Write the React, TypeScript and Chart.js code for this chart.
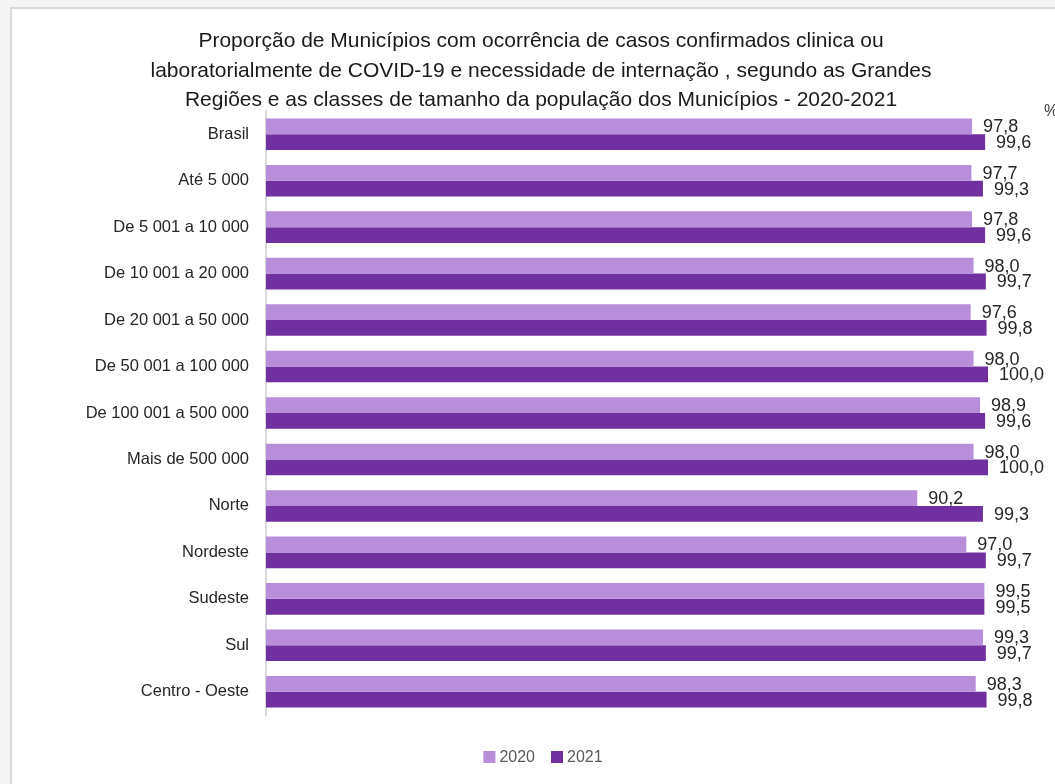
import React, { useEffect, useRef } from "react";
import { Chart, registerables } from "chart.js";

Chart.register(...registerables);

const titleLines = [
  "Proporção de Municípios com ocorrência de casos confirmados clinica ou",
  "laboratorialmente de COVID-19 e necessidade de internação , segundo as Grandes",
  "Regiões e as classes de tamanho da população dos Municípios - 2020-2021",
];

const categories = [
  "Brasil",
  "Até 5 000",
  "De 5 001 a 10 000",
  "De 10 001 a 20 000",
  "De 20 001 a 50 000",
  "De 50 001 a 100 000",
  "De 100 001 a 500 000",
  "Mais de 500 000",
  "Norte",
  "Nordeste",
  "Sudeste",
  "Sul",
  "Centro - Oeste",
];

const values2020 = [97.8, 97.7, 97.8, 98.0, 97.6, 98.0, 98.9, 98.0, 90.2, 97.0, 99.5, 99.3, 98.3];
const values2021 = [99.6, 99.3, 99.6, 99.7, 99.8, 100.0, 99.6, 100.0, 99.3, 99.7, 99.5, 99.7, 99.8];

const seriesLabels = ["2020", "2021"];
const seriesColors = ["#b88dda", "#7030a0"];
const unitLabel = "%";

const FONT = "'Liberation Sans', Arial, sans-serif";

const framePlugin = {
  id: "frame",
  beforeDraw(chart: any) {
    const ctx = chart.ctx;
    ctx.save();
    ctx.fillStyle = "#f4f4f4";
    ctx.fillRect(0, 0, chart.width, chart.height);
    ctx.fillStyle = "#d9d9d9";
    ctx.fillRect(10, 7, chart.width - 10, chart.height - 7);
    ctx.fillStyle = "#ffffff";
    ctx.fillRect(12, 9, chart.width - 12, chart.height - 9);
    ctx.restore();
  },
};

const textPlugin = {
  id: "texts",
  afterDatasetsDraw(chart: any) {
    const ctx = chart.ctx;
    ctx.save();
    // title
    ctx.fillStyle = "#1a1a1a";
    ctx.font = `21px ${FONT}`;
    ctx.textAlign = "center";
    ctx.textBaseline = "alphabetic";
    const baselines = [47, 77, 106];
    titleLines.forEach((t, i) => ctx.fillText(t, 541, baselines[i]));

    // unit
    ctx.font = `16px ${FONT}`;
    ctx.textAlign = "left";
    ctx.textBaseline = "middle";
    ctx.fillStyle = "#404040";
    ctx.fillText(unitLabel, 1044, 112);

    // value labels
    ctx.font = `18px ${FONT}`;
    ctx.fillStyle = "#262626";
    chart.data.datasets.forEach((ds: any, di: number) => {
      const meta = chart.getDatasetMeta(di);
      meta.data.forEach((bar: any, i: number) => {
        const v = ds.data[i] as number;
        ctx.fillText(v.toFixed(1).replace(".", ","), bar.x + 11, bar.y + 1);
      });
    });

    // legend
    ctx.font = `16px ${FONT}`;
    const box = 12;
    const gapText = 4;
    const gapItem = 16;
    const widths = chart.data.datasets.map((ds: any) => ctx.measureText(ds.label).width);
    const total = widths.reduce((a: number, w: number) => a + box + gapText + w, 0) + gapItem * (widths.length - 1);
    let x = 543 - total / 2;
    const cy = 757;
    chart.data.datasets.forEach((ds: any, di: number) => {
      ctx.fillStyle = ds.backgroundColor;
      ctx.fillRect(x, cy - box / 2, box, box);
      x += box + gapText;
      ctx.fillStyle = "#595959";
      ctx.textAlign = "left";
      ctx.textBaseline = "middle";
      ctx.fillText(ds.label, x, cy + 1);
      x += widths[di] + gapItem;
    });
    ctx.restore();
  },
};

export default function App() {
  const ref = useRef<HTMLCanvasElement | null>(null);

  useEffect(() => {
    if (!ref.current) return;
    const chart = new Chart(ref.current, {
      type: "bar",
      data: {
        labels: categories,
        datasets: [
          { label: seriesLabels[0], data: values2020, backgroundColor: seriesColors[0], borderWidth: 0 },
          { label: seriesLabels[1], data: values2021, backgroundColor: seriesColors[1], borderWidth: 0 },
        ],
      },
      options: {
        indexAxis: "y",
        responsive: false,
        animation: false,
        layout: { padding: { top: 111, bottom: 69, right: 67, left: 0 } },
        datasets: {
          bar: { categoryPercentage: 0.68, barPercentage: 1.0 },
        },
        plugins: {
          legend: { display: false },
          title: { display: false },
          tooltip: { enabled: false },
        },
        scales: {
          x: {
            display: false,
            min: 0,
            max: 100,
          },
          y: {
            grid: { display: false, drawTicks: false },
            border: { display: true, color: "#d9d9d9", width: 2 },
            ticks: {
              color: "#262626",
              font: { family: FONT, size: 16.5 },
              padding: 17,
              crossAlign: "near",
            },
            afterFit(scale: any) {
              scale.width = 266;
            },
          },
        },
      } as any,
      plugins: [framePlugin, textPlugin],
    });
    return () => chart.destroy();
  }, []);

  return (
    <div style={{ position: "fixed", left: 0, top: 0, width: 1055, height: 784 }}>
      <canvas ref={ref} width={1055} height={784} style={{ width: 1055, height: 784, display: "block" }} />
    </div>
  );
}
